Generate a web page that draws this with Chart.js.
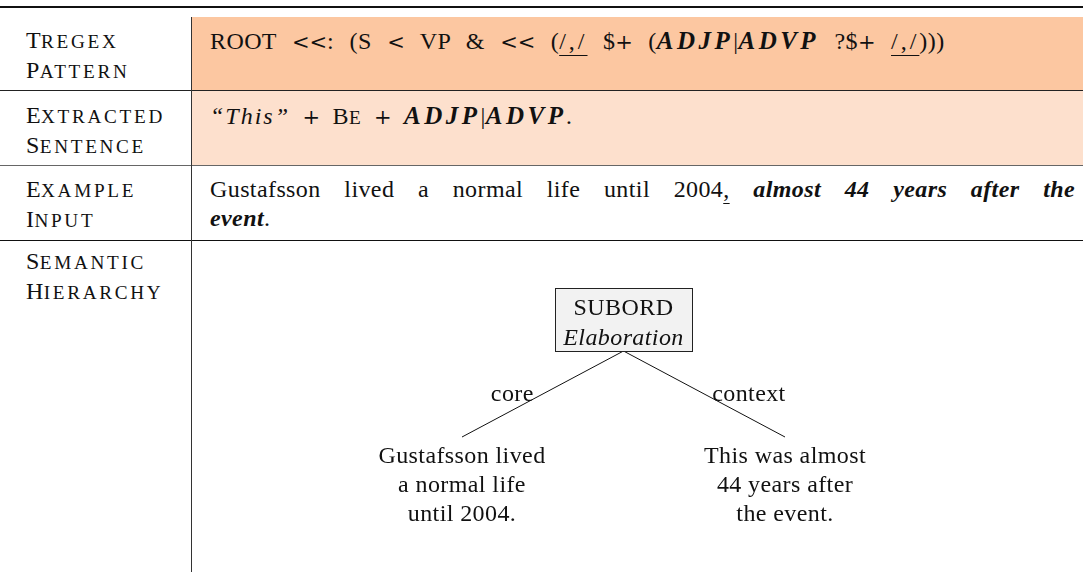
<!DOCTYPE html>
<html><head><meta charset="utf-8">
<script src="https://cdn.jsdelivr.net/npm/chart.js@4.4.1/dist/chart.umd.min.js"></script>
<style>
html,body{margin:0;padding:0;background:#fff;}
body{width:1083px;height:572px;position:relative;overflow:hidden;font-family:'Liberation Serif';font-size:24px;color:#111;letter-spacing:0.4px;}
.rule{position:absolute;left:0;width:1083px;}
.lab{position:absolute;left:26px;line-height:29px;white-space:nowrap;}
.sc{font-size:19.2px;letter-spacing:2.7px;text-transform:uppercase;}
.txt{position:absolute;left:210px;line-height:29px;white-space:nowrap;}
u{text-decoration:underline;text-underline-offset:6px;text-decoration-thickness:1px;}
.bi{font-weight:bold;font-style:italic;}
.bm{font-weight:bold;font-style:italic;font-size:25px;letter-spacing:3.5px;}
.mi{font-style:italic;letter-spacing:2px;}
.op{font-family:'DejaVu Serif';font-size:21px;letter-spacing:0;}
.sl{letter-spacing:3px;}
</style></head>
<body>
<div class="rule" style="top:6px;height:2px;background:#111"></div>
<div style="position:absolute;left:192px;top:17px;width:891px;height:74px;background:#FCC7A1"></div>
<div class="rule" style="top:90px;height:1px;background:#222"></div>
<div style="position:absolute;left:192px;top:91px;width:891px;height:74px;background:#FDE0CD"></div>
<div class="rule" style="top:165px;height:1px;background:#666"></div>
<div class="rule" style="top:240px;height:1px;background:#111"></div>
<div style="position:absolute;left:191px;top:17px;width:1px;height:555px;background:#333"></div>

<div class="lab" style="top:26px">T<span class="sc">regex</span><br>P<span class="sc">attern</span></div>
<div class="lab" style="top:101px">E<span class="sc">xtracted</span><br>S<span class="sc">entence</span></div>
<div class="lab" style="top:175px">E<span class="sc">xample</span><br>I<span class="sc">nput</span></div>
<div class="lab" style="top:247px">S<span class="sc">emantic</span><br>H<span class="sc">ierarchy</span></div>

<div class="txt" style="top:26px;word-spacing:9px">ROOT <span class="op">&lt;&lt;</span>: (S <span class="op">&lt;</span> VP &amp; <span class="op">&lt;&lt;</span> (<u class="sl">/,/</u> $<span class="op">+</span> (<span class="bm">ADJP</span>|<span class="bm">ADVP</span> ?$<span class="op">+</span> <u class="sl">/,/</u>)))</div>
<div class="txt" style="top:101px;word-spacing:6px"><span class="mi">“This”</span> <span class="op">+</span> B<span class="sc" style="letter-spacing:1px">e</span> <span class="op">+</span> <span class="bm">ADJP</span>|<span class="bm">ADVP</span><i>.</i></div>
<div style="position:absolute;left:210px;top:175px;width:865px;line-height:29px;text-align:justify;text-align-last:justify;">Gustafsson lived a normal life until 2004<u>,</u> <span class="bi">almost 44 years after the</span></div>
<div class="txt" style="top:204px"><span class="bi">event</span>.</div>

<canvas id="tree" width="891" height="331" style="position:absolute;left:192px;top:241px;"></canvas>

<script>
// Tree nodes (root and two children) with layout positions
const nodeText = [["SUBORD", "Elaboration"], ["Gustafsson lived", "a normal life", "until 2004."], ["This was almost", "44 years after", "the event."]];
const nodeX = [431.5, 270, 593];
const edgeLabels = ["core", "context"];
const rootAnchorY = 110;   // bottom of root box
const leafAnchorY = 196;   // top of leaf text

const edges = [1, 2].map(i => ({
  data: [{x: nodeX[0], y: rootAnchorY}, {x: nodeX[i], y: leafAnchorY}],
  showLine: true, borderColor: '#111', borderWidth: 1, pointRadius: 0, fill: false
}));

const FONT = '"Liberation Serif"';
const treePlugin = {
  id: 'treeText',
  afterDatasetsDraw(chart) {
    const ctx = chart.ctx, xs = chart.scales.x, ys = chart.scales.y;
    ctx.save();
    ctx.letterSpacing = '0.4px';
    // root box
    const cx = xs.getPixelForValue(nodeX[0]);
    const bottom = ys.getPixelForValue(rootAnchorY);
    const top = ys.getPixelForValue(47);
    const w = 137;
    ctx.fillStyle = '#F2F2F2';
    ctx.fillRect(cx - w / 2, top, w, bottom - top);
    ctx.strokeStyle = '#222'; ctx.lineWidth = 1;
    ctx.strokeRect(Math.round(cx - w / 2) + 0.5, Math.round(top) + 0.5, w, Math.round(bottom - top));
    ctx.fillStyle = '#111';
    ctx.textAlign = 'center'; ctx.textBaseline = 'alphabetic';
    ctx.font = '24px ' + FONT;
    ctx.fillText(nodeText[0][0], cx, ys.getPixelForValue(74));
    ctx.font = 'italic 24px ' + FONT;
    ctx.fillText(nodeText[0][1], cx, ys.getPixelForValue(104));
    // leaves
    ctx.font = '24px ' + FONT;
    [1, 2].forEach(i => {
      const lx = xs.getPixelForValue(nodeX[i]);
      nodeText[i].forEach((line, k) => {
        ctx.fillText(line, lx, ys.getPixelForValue(leafAnchorY + 26 + 29 * k));
      });
    });
    // edge labels
    const midY = ys.getPixelForValue(160);
    const m1 = xs.getPixelForValue((nodeX[0] + nodeX[1]) / 2);
    const m2 = xs.getPixelForValue((nodeX[0] + nodeX[2]) / 2);
    ctx.textAlign = 'right';
    ctx.fillText(edgeLabels[0], m1 - 9, midY);
    ctx.textAlign = 'left';
    ctx.fillText(edgeLabels[1], m2 + 8, midY);
    ctx.restore();
  }
};

new Chart(document.getElementById('tree'), {
  type: 'scatter',
  data: { datasets: edges },
  options: {
    responsive: false, animation: false, devicePixelRatio: 1,
    layout: { padding: 0 },
    plugins: { legend: { display: false }, tooltip: { enabled: false } },
    events: [],
    scales: {
      x: { type: 'linear', min: 0, max: 891, display: false },
      y: { type: 'linear', min: 0, max: 331, reverse: true, display: false }
    }
  },
  plugins: [treePlugin]
});
</script>
</body></html>
